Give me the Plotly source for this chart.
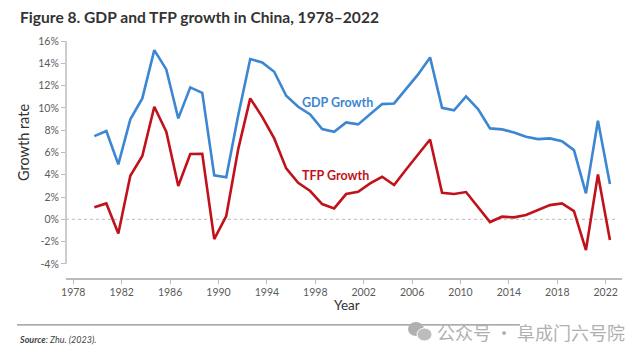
import plotly.graph_objects as go

years = list(range(1979, 2023))
gdp_growth = [7.47, 7.92, 4.93, 8.97, 10.85, 15.18, 13.45, 9.06, 11.84, 11.35, 3.95, 3.77,
              9.35, 14.38, 14.08, 13.24, 11.09, 10.1, 9.41, 8.1, 7.86, 8.7, 8.52, 9.4, 10.34,
              10.4, 11.7, 13.0, 14.53, 10.01, 9.78, 11.03, 9.89, 8.16, 8.07, 7.8, 7.41, 7.2,
              7.26, 7.02, 6.21, 2.33, 8.85, 3.17]
tfp_growth = [1.08, 1.43, -1.26, 3.91, 5.68, 10.1, 7.86, 2.99, 5.86, 5.88, -1.77, 0.3,
              6.3, 10.85, 9.2, 7.26, 4.57, 3.28, 2.54, 1.37, 0.98, 2.27, 2.48, 3.23, 3.82,
              3.08, 4.48, 5.86, 7.17, 2.39, 2.27, 2.45, 1.13, -0.24, 0.24, 0.18, 0.39, 0.83,
              1.28, 1.43, 0.74, -2.75, 4.03, -1.86]
x_tick_labels = list(range(1978, 2023, 4))
y_tick_values = list(range(-4, 17, 2))

BLUE = "#3C86D2"
RED = "#C1121C"
FONT = "Lato"

# tick positions calibrated to the reference's axis placement
x_tick_pos = [1977.244 + (t - 1978) * 1.00918 for t in x_tick_labels]

PW, PH = 556, 238  # plot area size in px
L, B = 66, 278     # plot area left / bottom (screen px)


def px(x):
    return (x - L) / PW


def py(y):
    return (B - y) / PH


fig = go.Figure()
fig.add_trace(go.Scatter(x=years, y=gdp_growth, mode="lines",
                         line=dict(color=BLUE, width=2.6), showlegend=False))
fig.add_trace(go.Scatter(x=years, y=tfp_growth, mode="lines",
                         line=dict(color=RED, width=2.6), showlegend=False))

fig.update_layout(
    width=632, height=348,
    margin=dict(l=58, r=18, t=32, b=78),
    paper_bgcolor="white", plot_bgcolor="white",
    font=dict(family=FONT, color="#555"),
    xaxis=dict(range=[1976.636, 2023.007], tickmode="array", tickvals=x_tick_pos,
               ticktext=[str(t) for t in x_tick_labels], showgrid=False, zeroline=False,
               showline=True, linecolor="#b8bcc0", linewidth=1.5, ticks="outside",
               ticklen=4, tickcolor="#b8bcc0", tickfont=dict(size=10.5, color="#5a5a5a")),
    yaxis=dict(range=[-5.26, 16.09], tickmode="array", tickvals=y_tick_values,
               ticktext=[f"{v}%" for v in y_tick_values], showgrid=False, zeroline=False,
               showline=False, ticks="outside", ticklen=4, tickcolor="#b8bcc0",
               tickfont=dict(size=10.5, color="#5a5a5a")),
)

# y axis line (from -4% to 16%)
fig.add_shape(type="line", xref="paper", yref="y", x0=0, x1=0, y0=-4, y1=16,
              line=dict(color="#b8bcc0", width=1.5))
# dotted zero line
fig.add_shape(type="line", xref="paper", yref="y", x0=0, x1=0.99, y0=0, y1=0,
              line=dict(color="#c8c8c8", width=1.2, dash="dot"), layer="below")
# bottom rule as a thin filled rectangle
fig.add_shape(type="rect", xref="paper", yref="paper", x0=px(17), x1=px(520),
              y0=py(325.5), y1=py(324.3), fillcolor="#8f8f8f", line=dict(width=0))

# series labels
fig.add_annotation(x=1999.32, y=10.52, text="GDP Growth", showarrow=False,
                   font=dict(family=FONT, size=12.5, color=BLUE, weight="bold"))
fig.add_annotation(x=1999.15, y=3.97, text="TFP Growth", showarrow=False,
                   font=dict(family=FONT, size=12.5, color=RED, weight="bold"))

# title
fig.add_annotation(xref="paper", yref="paper", x=px(18), y=py(17), xanchor="left",
                   yanchor="middle", showarrow=False,
                   text="<b>Figure 8. GDP and TFP growth in China, 1978–2022</b>",
                   font=dict(family=FONT, size=15.6, color="#333"))
# axis titles
fig.add_annotation(xref="paper", yref="paper", x=px(23), y=py(143),
                   text="Growth rate", textangle=-90, showarrow=False,
                   xanchor="center", yanchor="middle",
                   font=dict(family=FONT, size=14.5, color="#333"))
fig.add_annotation(xref="paper", yref="paper", x=px(347), y=py(305),
                   text="Year", showarrow=False, xanchor="center", yanchor="middle",
                   font=dict(family=FONT, size=13.5, color="#333"))
# source
fig.add_annotation(xref="paper", yref="paper", x=px(17), y=py(339),
                   text="<b><i>Source</i></b><i>: Zhu. (2023).</i>", showarrow=False,
                   xanchor="left", yanchor="middle",
                   font=dict(family=FONT, size=9, color="#444"))
# watermark
fig.add_shape(type="circle", xref="paper", yref="paper",
              x0=px(408), x1=px(424), y0=py(336), y1=py(322),
              fillcolor="#b0b0b0", line=dict(width=0))
fig.add_shape(type="circle", xref="paper", yref="paper",
              x0=px(417), x1=px(432), y0=py(341), y1=py(328),
              fillcolor="#bdbdbd", line=dict(color="white", width=1))
fig.add_annotation(xref="paper", yref="paper", x=px(435), y=py(332),
                   text="公众号 · 阜成门六号院", showarrow=False, xanchor="left",
                   yanchor="middle",
                   font=dict(family="Noto Sans CJK SC", size=18, color="#b0b0b0"))

fig.write_html("out.html")
